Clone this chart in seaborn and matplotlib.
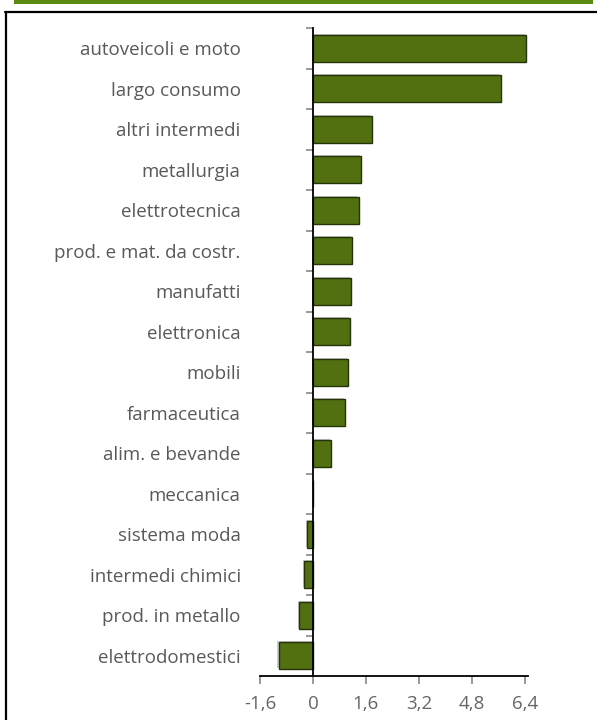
import matplotlib
matplotlib.use("Agg")
import matplotlib.pyplot as plt
import matplotlib.patheffects as pe
from matplotlib.patches import Rectangle
from matplotlib.lines import Line2D
import seaborn as sns
import pandas as pd
import numpy as np

categories = [
    "autoveicoli e moto", "largo consumo", "altri intermedi", "metallurgia",
    "elettrotecnica", "prod. e mat. da costr.", "manufatti", "elettronica",
    "mobili", "farmaceutica", "alim. e bevande", "meccanica",
    "sistema moda", "intermedi chimici", "prod. in metallo", "elettrodomestici",
]
values = [6.45, 5.67, 1.77, 1.45, 1.38, 1.18, 1.15, 1.12,
          1.06, 0.97, 0.54, 0.01, -0.17, -0.27, -0.41, -1.04]
xticks = [-1.6, 0, 1.6, 3.2, 4.8, 6.4]
xtick_labels = ["-1,6", "0", "1,6", "3,2", "4,8", "6,4"]

sns.set_style("white")
plt.rcParams["font.family"] = ["Open Sans", "DejaVu Sans"]

df = pd.DataFrame({"settore": categories, "valore": values})

fig = plt.figure(figsize=(5.97, 7.2), dpi=100)
ax = fig.add_axes([260 / 597, 1 - 676 / 720, 268 / 597, 648 / 720])

sns.barplot(data=df, x="valore", y="settore", orient="h", color="#52700f",
            saturation=1, width=0.67, edgecolor="#25330a", linewidth=1.0, ax=ax)
for bar in ax.patches:
    bar.set_path_effects([pe.SimplePatchShadow(offset=(-0.8, 0.8), shadow_rgbFace="#999999", alpha=0.5),
                          pe.Normal()])

ax.set_xlim(-1.6, 6.5)
ax.set_ylim(len(categories) - 0.5, -0.5)
ax.set_xlabel("")
ax.set_ylabel("")

for s in ["top", "right"]:
    ax.spines[s].set_visible(False)
ax.spines["left"].set_position(("data", 0))
ax.spines["left"].set_color("black")
ax.spines["left"].set_linewidth(1.3)
ax.spines["bottom"].set_color("black")
ax.spines["bottom"].set_linewidth(1.3)

ax.set_xticks(xticks)
ax.set_xticklabels(xtick_labels)
ax.tick_params(axis="x", direction="out", length=5.5, width=1.2, color="#888888",
               labelsize=13.5, labelcolor="#666666", pad=8, bottom=True)

ax.set_yticks(range(len(categories)))
ax.set_yticklabels(categories)
ax.tick_params(axis="y", which="major", length=0, pad=52, labelsize=13.5,
               labelcolor="#595959", left=True)
ax.set_yticks(np.arange(-0.5, len(categories) - 0.5, 1.0), minor=True)
ax.tick_params(axis="y", which="minor", direction="out", length=5, width=1.2,
               color="#888888", left=True)

# page frame and header strip
fig.patches.append(Rectangle((14 / 597, 1 - 3.5 / 720), 579 / 597, 3.5 / 720,
                             transform=fig.transFigure, facecolor="#5a8a12",
                             edgecolor="none"))
fig.lines.append(Line2D([6 / 597, 6 / 597], [0, 1 - 12 / 720], transform=fig.transFigure,
                        color="black", linewidth=1.6))
fig.lines.append(Line2D([5 / 597, 1], [1 - 12 / 720, 1 - 12 / 720], transform=fig.transFigure,
                        color="black", linewidth=1.6))

fig.savefig("out.png", dpi=100)
